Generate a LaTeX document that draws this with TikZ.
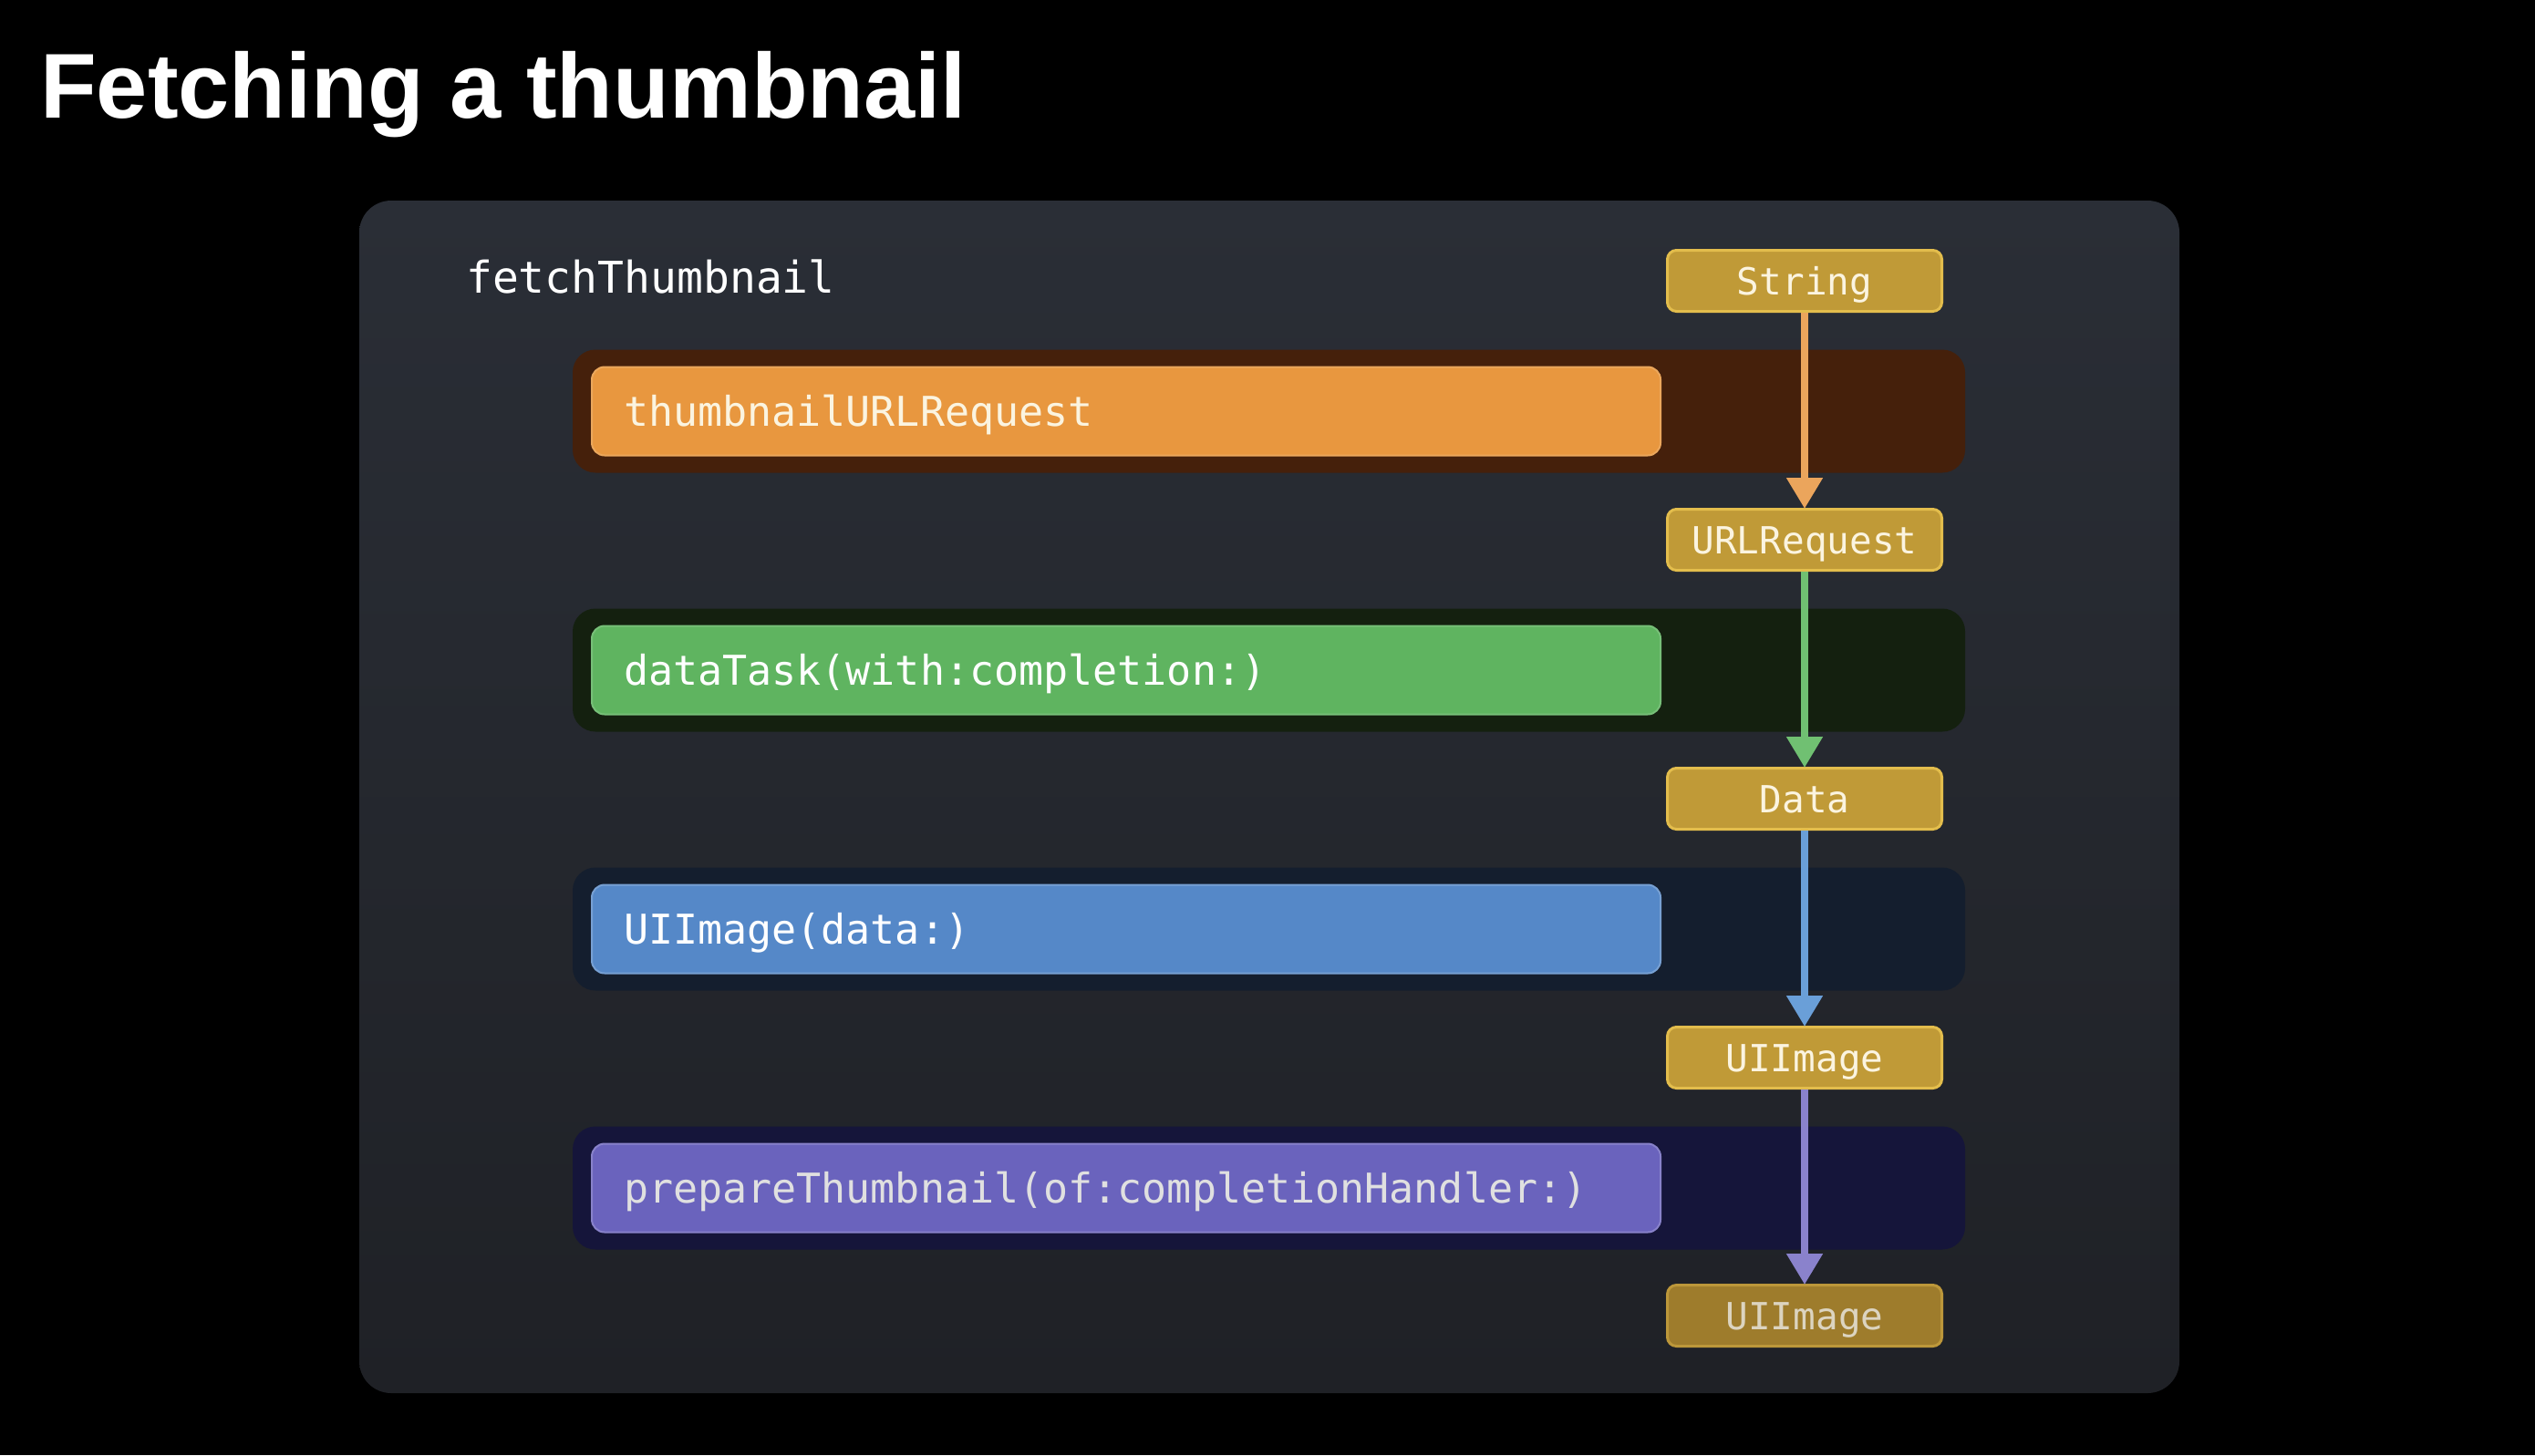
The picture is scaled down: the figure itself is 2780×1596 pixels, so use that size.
\documentclass[tikz,border=0pt]{standalone}
\usepackage{fontspec}
\usetikzlibrary{arrows.meta}
\newfontfamily\titlefont{Liberation Sans}
\newfontfamily\codefont{DejaVu Sans Mono}
\definecolor{bg}{HTML}{000000}
\definecolor{paneltop}{HTML}{2A2E36}
\definecolor{panelbot}{HTML}{1F2126}
\definecolor{yfill}{HTML}{C09A37}
\definecolor{yedge}{HTML}{E3BD4C}
\definecolor{ytext}{HTML}{FBF4E0}
\definecolor{yfillD}{HTML}{9E7C2C}
\definecolor{yedgeD}{HTML}{BC973A}
\definecolor{ytextD}{HTML}{DCD4C0}
\definecolor{oband}{HTML}{45200B}
\definecolor{obox}{HTML}{E8973F}
\definecolor{oarr}{HTML}{EBA55C}
\definecolor{gband}{HTML}{14200F}
\definecolor{gbox}{HTML}{5FB460}
\definecolor{garr}{HTML}{70C072}
\definecolor{bband}{HTML}{141E2E}
\definecolor{bbox}{HTML}{5588C8}
\definecolor{barr}{HTML}{6A9FD8}
\definecolor{pband}{HTML}{15153A}
\definecolor{pbox}{HTML}{6A63BD}
\definecolor{parr}{HTML}{8A82CC}
\tikzset{
  band/.style={rectangle, rounded corners=25pt, minimum width=1527pt, minimum height=135pt, inner sep=0pt},
  fbox/.style={rectangle, rounded corners=14pt, draw, line width=2pt, minimum height=97pt,
     text width=1102pt, inner xsep=35pt, inner ysep=0pt, align=left,
     text height=33pt, text depth=0pt, font=\codefont\fontsize{45}{54}\selectfont, text=white},
  tbox/.style={rectangle, rounded corners=10pt, fill=yfill, draw=yedge, line width=3pt,
     minimum width=301pt, minimum height=67pt, inner sep=0pt, align=center,
     text height=30pt, text depth=0pt, font=\codefont\fontsize{41}{50}\selectfont, text=ytext},
  flow/.style={line width=8pt, -{Triangle[width=38pt,length=34pt]}, shorten >=-1pt}
}
\begin{document}
\begin{tikzpicture}[x=1pt,y=-1pt]
\fill[bg] (0,0) rectangle (2780,1596);
\useasboundingbox (0,0) rectangle (2780,1596);
% title
\node[anchor=base west, inner sep=0pt, text=white, font=\titlefont\bfseries\fontsize{101}{120}\selectfont] (title) at (44,129) {Fetching a thumbnail};
% panel
\shade[top color=paneltop, bottom color=panelbot, rounded corners=35pt] (394,220) rectangle (2390,1528);
\node[anchor=base west, inner sep=0pt, text=white, font=\codefont\fontsize{48}{58}\selectfont] (fn) at (511,321) {fetchThumbnail};
% bands
\node[band, fill=oband] (b1) at (1391.5,451) {};
\node[band, fill=gband] (b2) at (1391.5,735) {};
\node[band, fill=bband] (b3) at (1391.5,1019) {};
\node[band, fill=pband] (b4) at (1391.5,1303) {};
% function boxes
\node[fbox, fill=obox, draw=obox!85!white, text=ytext] (f1) at (1235,451) {thumbnailURLRequest};
\node[fbox, fill=gbox, draw=gbox!85!white] (f2) at (1235,735) {dataTask(with:completion:)};
\node[fbox, fill=bbox, draw=bbox!80!white] (f3) at (1235,1019) {UIImage(data:)};
\node[fbox, fill=pbox, draw=pbox!80!white, text=white!88!black] (f4) at (1235,1303) {prepareThumbnail(of:completionHandler:)};
% type boxes
\node[tbox] (t0) at (1979,308) {String};
\node[tbox] (t1) at (1979,592) {URLRequest};
\node[tbox] (t2) at (1979,876) {Data};
\node[tbox] (t3) at (1979,1160) {UIImage};
\node[tbox, fill=yfillD, draw=yedgeD, text=ytextD] (t4) at (1979,1443) {UIImage};
% arrows
\draw[flow, oarr] (t0.south) -- (t1.north);
\draw[flow, garr] (t1.south) -- (t2.north);
\draw[flow, barr] (t2.south) -- (t3.north);
\draw[flow, parr] (t3.south) -- (t4.north);
\end{tikzpicture}
\end{document}
